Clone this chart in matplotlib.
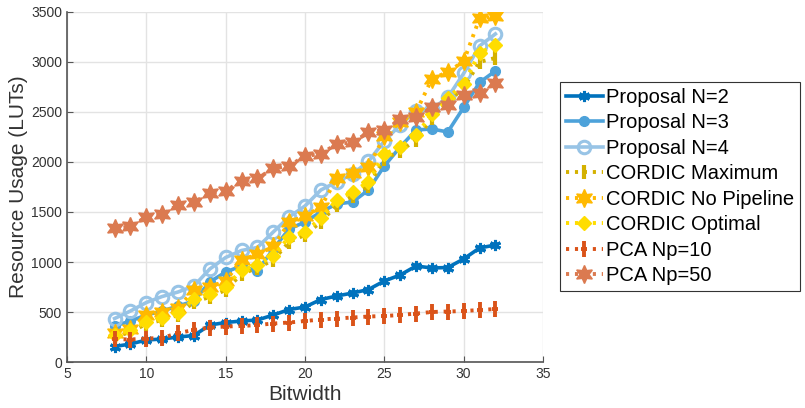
import matplotlib
matplotlib.use("Agg")
import matplotlib.pyplot as plt
from matplotlib.path import Path
import numpy as np

bitwidth = list(range(8, 33))

proposal_n2 = [155, 180, 220, 230, 250, 265, 370, 395, 410, 420, 470, 525, 550,
               625, 660, 690, 725, 810, 870, 960, 940, 945, 1030, 1140, 1170]
proposal_n3 = [360, 410, 470, 510, 560, 610, 800, 900, 960, 910, 1130, 1330, 1400,
               1500, 1580, 1600, 1720, 1960, 2150, 2320, 2330, 2300, 2545, 2795, 2910]
proposal_n4 = [435, 510, 595, 655, 700, 760, 930, 1045, 1115, 1145, 1300, 1450, 1560,
               1720, 1800, 1880, 2005, 2210, 2370, 2510, 2530, 2645, 2885, 3160, 3280]
cordic_max = [250, 300, 380, 420, 470, 600, 650, 720, 880, 940, 1020, 1200, 1270,
              1400, 1570, 1660, 1760, 2030, 2110, 2220, 2440, 2600, 2740, 3000, 3040]
cordic_nopipe = [290, 335, 470, 505, 540, 720, 750, 810, 1020, 1075, 1155, 1395, 1460,
                 1550, 1835, 1890, 1950, 2255, 2400, 2500, 2830, 2900, 3005, 3435, 3455]
cordic_opt = [270, 320, 400, 440, 490, 630, 680, 750, 920, 970, 1060, 1250, 1300,
              1440, 1620, 1700, 1800, 2080, 2150, 2270, 2480, 2640, 2780, 3090, 3170]
pca_np10 = [230, 225, 235, 240, 290, 320, 345, 355, 360, 370, 385, 395, 410,
            425, 435, 445, 455, 460, 470, 485, 500, 505, 510, 520, 530]
pca_np50 = [1335, 1355, 1450, 1475, 1570, 1595, 1690, 1710, 1810, 1835, 1935, 1960, 2060,
            2080, 2180, 2195, 2295, 2320, 2425, 2445, 2545, 2570, 2665, 2685, 2785]

# plus sign with a long vertical arm
tall_plus = Path([(-0.4, 0), (0.4, 0), (0, -1), (0, 1)],
                 [Path.MOVETO, Path.LINETO, Path.MOVETO, Path.LINETO])
hexagram = (6, 1, 0)
dots = (0, (0.8, 1.5))

series = [
    ("Proposal N=2", proposal_n2, dict(color="#0072BD", ls="-", lw=2.6, marker=(6, 2, 0), ms=8, mew=2.2)),
    ("Proposal N=3", proposal_n3, dict(color="#4DA2DA", ls="-", lw=2.6, marker="o", ms=7)),
    ("Proposal N=4", proposal_n4, dict(color="#98C4E6", ls="-", lw=2.6, marker="o", ms=9, mfc="none", mew=2.2)),
    ("CORDIC Maximum", cordic_max, dict(color="#D4B100", ls=dots, lw=2.8, marker="|", ms=10, mew=3)),
    ("CORDIC No Pipeline", cordic_nopipe, dict(color="#FFB900", ls=dots, lw=2.8, marker=hexagram, ms=13)),
    ("CORDIC Optimal", cordic_opt, dict(color="#FFDD00", ls=dots, lw=2.8, marker="D", ms=7)),
    ("PCA Np=10", pca_np10, dict(color="#DA5319", ls=dots, lw=2.8, marker=tall_plus, ms=11, mew=2.8)),
    ("PCA Np=50", pca_np50, dict(color="#DB7A50", ls=dots, lw=2.8, marker=hexagram, ms=13)),
]

plt.rcParams["font.family"] = ["Liberation Sans", "DejaVu Sans"]

fig = plt.figure(figsize=(8.05, 4.08), dpi=100)
ax = fig.add_axes((0.0832, 0.1127, 0.5913, 0.858))

for label, values, style in series:
    ax.plot(bitwidth, values, label=label, **style)

ax.set_xlim(5, 35)
ax.set_ylim(0, 3500)
ax.set_xticks(np.arange(5, 36, 5))
ax.set_yticks(np.arange(0, 3501, 500))
ax.grid(True, color="#e3e3e3", lw=1)
ax.set_axisbelow(True)
for side in ("top", "right"):
    ax.spines[side].set_visible(False)
for side in ("left", "bottom"):
    ax.spines[side].set_color("#555555")
    ax.spines[side].set_linewidth(1.2)
ax.tick_params(direction="in", length=4, color="#555555", labelsize=10, labelcolor="#333333")
ax.set_xlabel("Bitwidth", fontsize=15, color="#333333", labelpad=3)
ax.set_ylabel("Resource Usage (LUTs)", fontsize=15, color="#333333", labelpad=2)

leg = fig.legend(loc="upper left", bbox_to_anchor=(0.696, 0.799), bbox_transform=fig.transFigure,
                 borderaxespad=0, fontsize=14.5, handlelength=1.8, handletextpad=0.15,
                 labelspacing=0.32, borderpad=0.3, fancybox=False, framealpha=1)
leg.get_frame().set_edgecolor("#333333")
leg.get_frame().set_linewidth(0.8)

fig.savefig("out.png", dpi=100)
